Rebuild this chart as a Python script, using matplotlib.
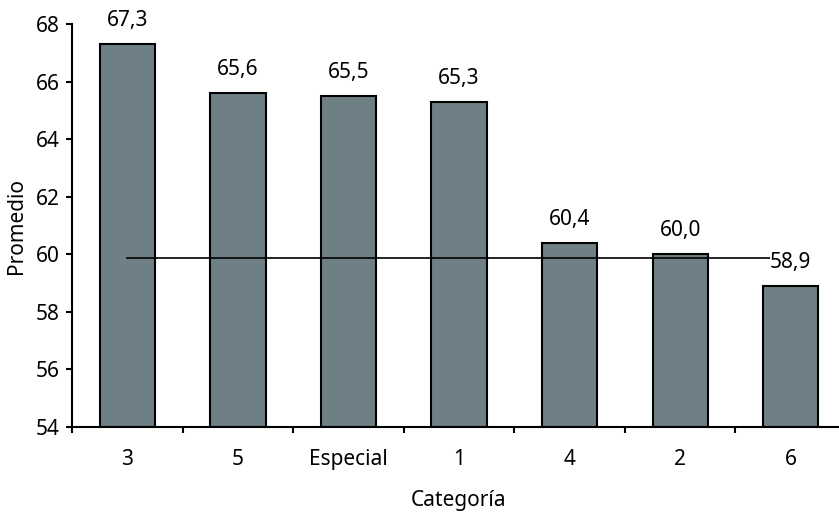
import matplotlib
matplotlib.use("Agg")
import matplotlib.pyplot as plt

categorias = ['3', '5', 'Especial', '1', '4', '2', '6']
promedios = [67.3, 65.6, 65.5, 65.3, 60.4, 60.0, 58.9]
etiquetas = ['67,3', '65,6', '65,5', '65,3', '60,4', '60,0', '58,9']
promedio_general = 59.86

plt.rcParams['font.family'] = ['Noto Sans', 'DejaVu Sans']

fig = plt.figure(figsize=(8.39, 5.17), dpi=100)
ax = fig.add_axes([72/839, 1 - 427/517, 774/839, 403/517])

x = list(range(len(categorias)))
ax.bar(x, [p - 54 for p in promedios], bottom=54, width=0.5,
       color='#6e7f86', edgecolor='black', linewidth=1.5, zorder=2)
ax.plot([0, 6], [promedio_general, promedio_general], color='black', lw=1.2, zorder=3)

for xi, p, t in zip(x, promedios, etiquetas):
    ax.text(xi, p + 0.62, t, ha='center', va='baseline', fontsize=15, zorder=4,
            bbox=dict(facecolor='white', edgecolor='none', pad=0))

ax.set_ylim(54, 68)
ax.set_xlim(-0.5, 6.5)
ax.set_yticks(range(54, 69, 2))
ax.set_xticks(x)
ax.set_xticklabels(categorias)
ax.set_xticks([i + 0.5 for i in range(-1, 7)], minor=True)
ax.tick_params(axis='x', which='major', length=0, pad=16, labelsize=15)
ax.tick_params(axis='x', which='minor', length=4, width=1.5, direction='out')
ax.tick_params(axis='y', length=4, width=1.5, labelsize=15, pad=5)

for s in ['top', 'right']:
    ax.spines[s].set_visible(False)
for s in ['left', 'bottom']:
    ax.spines[s].set_linewidth(1.5)

ax.set_ylabel('Promedio', fontsize=15, labelpad=6)
ax.set_xlabel('Categoría', fontsize=15, labelpad=14)

fig.savefig('out.png', dpi=100)
